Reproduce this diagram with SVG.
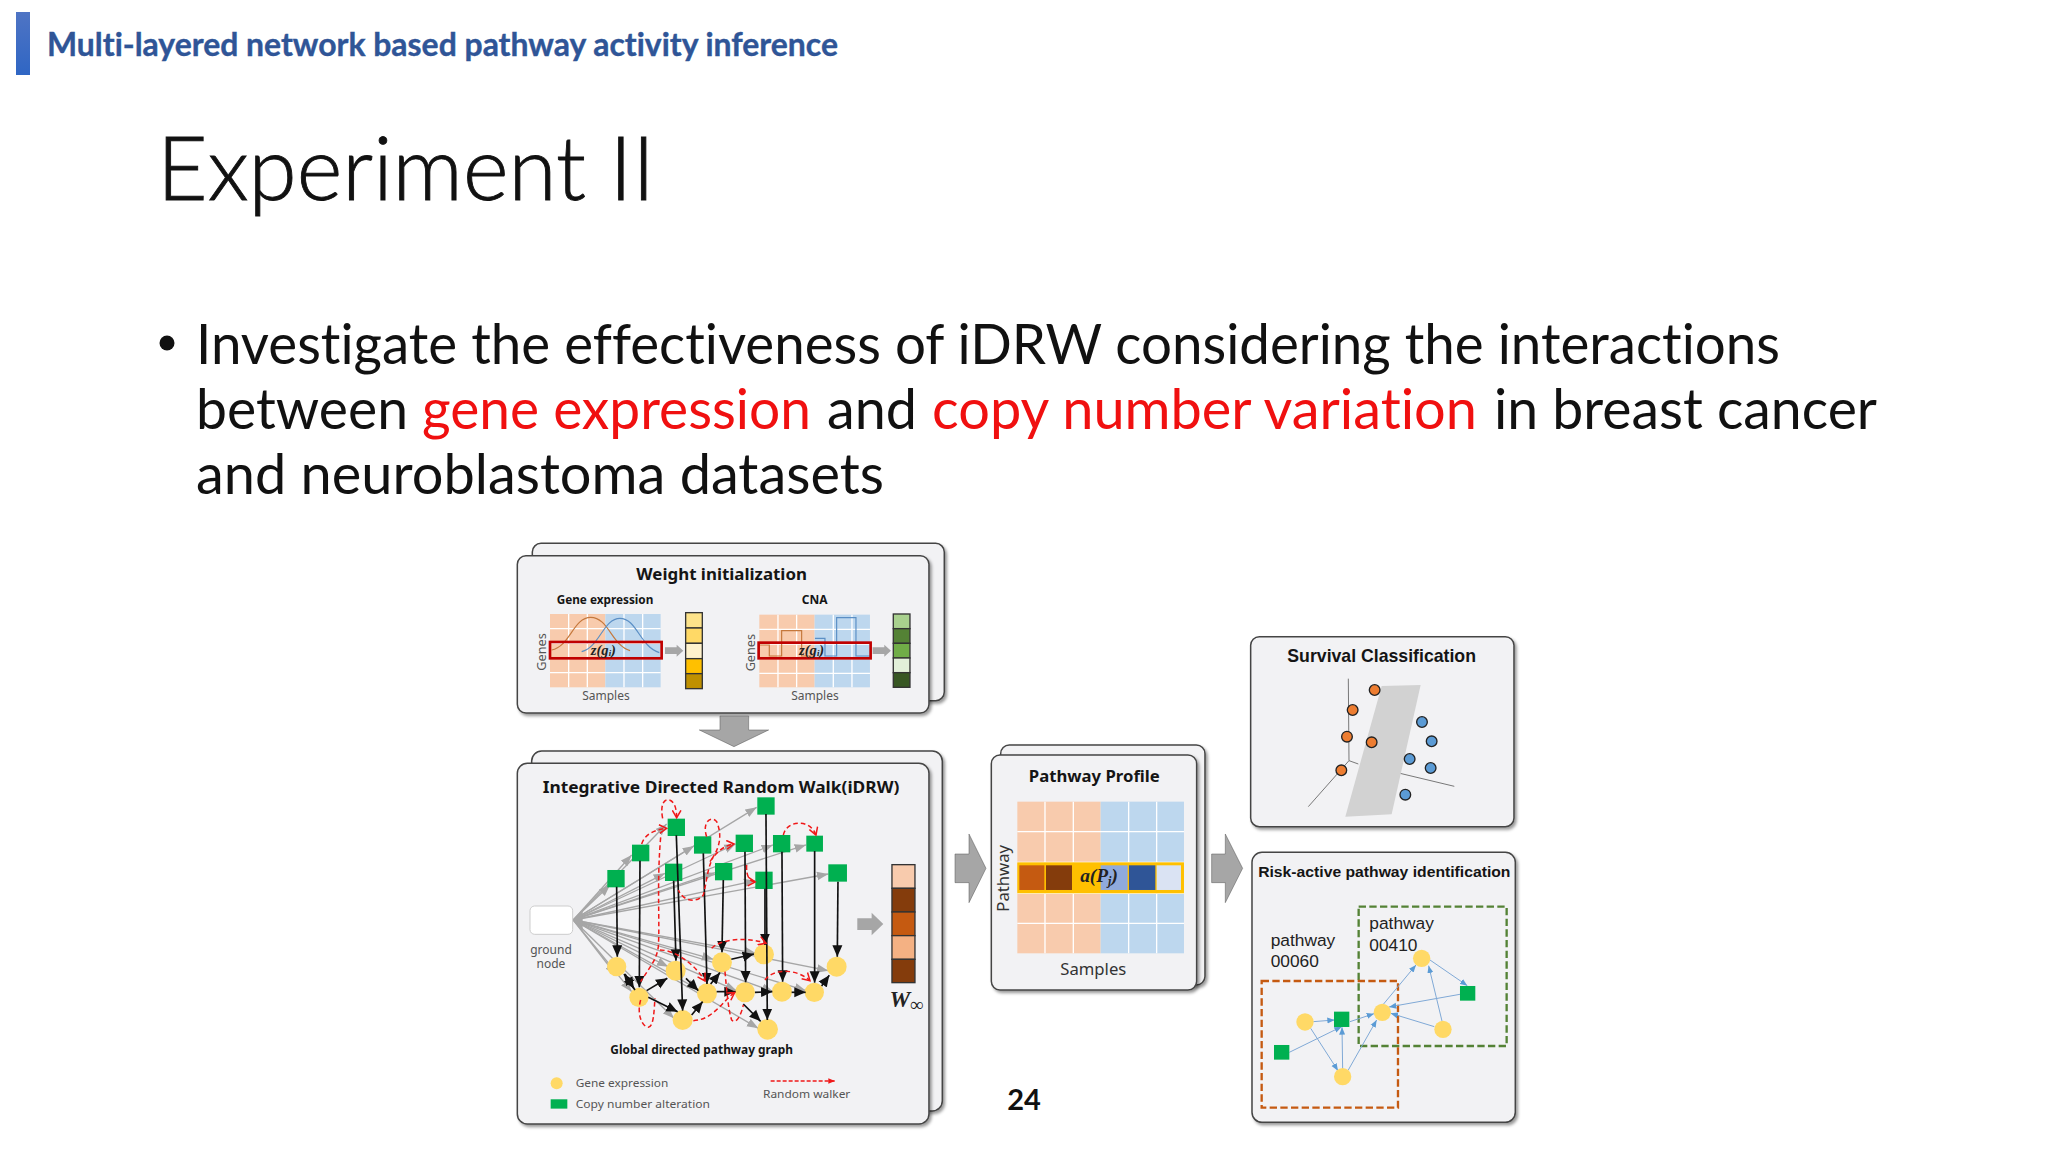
<svg xmlns="http://www.w3.org/2000/svg" width="2048" height="1152" viewBox="0 0 2048 1152">
<style>
text{font-family:"Lato","Open Sans","Liberation Sans",sans-serif;font-variant-ligatures:none}
.body{font-size:56px;fill:#111}
.red{fill:#f01010}
.panel{fill:#f2f2f4;stroke:#454545;stroke-width:4.5px;filter:url(#sh)}
.t{font-family:"Noto Sans","Liberation Sans",sans-serif;font-weight:700;fill:#151515;text-anchor:middle}
.l{font-family:"Noto Sans","Liberation Sans",sans-serif;fill:#555;text-anchor:middle}
.a{font-family:"Liberation Sans",Arial,sans-serif}
.m{font-family:"Liberation Serif",serif;font-weight:700;font-style:italic;fill:#222;text-anchor:middle}
.o{fill:#f8cbad}.b{fill:#bdd7ee}
.sep{stroke:#fff;stroke-width:4;fill:none}
.bar{stroke:#333;stroke-width:4}
.ga{fill:#a6a6a6;stroke:#555;stroke-width:1.5}
.gs{fill:#a6a6a6}
.sq{fill:#00b050}
.ci{fill:#ffd966}
.gl{stroke:#a6a6a6;stroke-width:4;fill:none;marker-end:url(#mg)}
.bl{stroke:#111;stroke-width:5;fill:none;marker-end:url(#mk)}
.rd{stroke:#f01818;stroke-width:4.5;fill:none;stroke-dasharray:14 9;marker-end:url(#mr)}
.rn{stroke:#f01818;stroke-width:4.5;fill:none;stroke-dasharray:14 9}
.bu{stroke:#7fa9d6;stroke-width:3;fill:none;marker-end:url(#mb)}
.ax{stroke:#777;stroke-width:3;fill:none}
.oc{fill:#ed7d31;stroke:#222;stroke-width:4}
.bc{fill:#5b9bd5;stroke:#222;stroke-width:4}
</style>
<defs>
<filter id="sh" x="-5%" y="-5%" width="112%" height="112%"><feDropShadow dx="6" dy="7" stdDeviation="4" flood-color="#000" flood-opacity=".4"/></filter>
<linearGradient id="hb" x1="0" y1="0" x2="0" y2="1"><stop offset="0" stop-color="#4f74c4"/><stop offset="1" stop-color="#2f66c4"/></linearGradient>
<marker id="mg" markerUnits="userSpaceOnUse" markerWidth="36" markerHeight="30" refX="34" refY="15" orient="auto"><path d="M0 2L34 15L0 28z" fill="#a6a6a6"/></marker>
<marker id="mk" markerUnits="userSpaceOnUse" markerWidth="36" markerHeight="34" refX="34" refY="17" orient="auto"><path d="M0 2L34 17L0 32z" fill="#111"/></marker>
<marker id="mr" markerUnits="userSpaceOnUse" markerWidth="30" markerHeight="30" refX="24" refY="15" orient="auto"><path d="M2 2L24 15L2 28" fill="none" stroke="#f01818" stroke-width="4.5"/></marker>
<marker id="mb" markerUnits="userSpaceOnUse" markerWidth="24" markerHeight="20" refX="22" refY="10" orient="auto"><path d="M0 1L22 10L0 19z" fill="#5b9bd5"/></marker>
<marker id="ml" markerUnits="userSpaceOnUse" markerWidth="22" markerHeight="20" refX="20" refY="10" orient="auto"><path d="M0 2L20 10L0 18z" fill="#f01818"/></marker>
</defs>
<rect width="2048" height="1152" fill="#fff"/>

<g id="header">
<rect x="16" y="12" width="14" height="63" fill="url(#hb)"/>
<text x="47" y="56" font-size="32" font-weight="700" fill="#2f5597" stroke="#2f5597" stroke-width=".4" textLength="791" lengthAdjust="spacingAndGlyphs">Multi-layered network based pathway activity inference</text>
</g>
<text id="title" x="157" y="200" font-size="88" font-weight="300" fill="#111" stroke="#111" stroke-width=".9" textLength="498" lengthAdjust="spacingAndGlyphs">Experiment II</text>
<g id="bullets" class="body">
<circle cx="167" cy="343" r="7.5" fill="#111"/>
<text class="body" x="196" y="364" textLength="1584" lengthAdjust="spacingAndGlyphs">Investigate the effectiveness of iDRW considering the interactions</text>
<text class="body" x="196" y="429" textLength="212" lengthAdjust="spacingAndGlyphs">between</text>
<text class="body red" x="422" y="429" textLength="389" lengthAdjust="spacingAndGlyphs">gene expression</text>
<text class="body" x="827" y="429" textLength="90" lengthAdjust="spacingAndGlyphs">and</text>
<text class="body red" x="932" y="429" textLength="545" lengthAdjust="spacingAndGlyphs">copy number variation</text>
<text class="body" x="1494" y="429" textLength="383" lengthAdjust="spacingAndGlyphs">in breast cancer</text>
<text class="body" x="196" y="494" textLength="688" lengthAdjust="spacingAndGlyphs">and neuroblastoma datasets</text>
</g>

<!-- Weight initialization -->
<g id="weight-panel" transform="translate(500 530) scale(.3333)">
<rect class="panel" x="97" y="40" width="1236" height="472" rx="26"/>
<rect class="panel" x="52" y="77" width="1235" height="472" rx="26"/>
<text class="t" x="665" y="150" font-size="50" textLength="512" lengthAdjust="spacingAndGlyphs">Weight initialization</text>
<text class="t" x="315" y="222" font-size="36" textLength="290" lengthAdjust="spacingAndGlyphs">Gene expression</text>
<text class="t" x="944" y="222" font-size="36">CNA</text>
<g id="grid-ge">
<rect class="o" x="150" y="252" width="166" height="220"/><rect class="b" x="316" y="252" width="166" height="220"/>
<path class="sep" d="M206 252V472M262 252V472M372 252V472M428 252V472M150 296H482M150 340H482M150 384H482M150 428H482"/>
<path d="M155 360C210 350 220 262 272 262C325 262 335 345 390 362" fill="none" stroke="#c5783c" stroke-width="3.5"/>
<path d="M245 365C300 350 310 265 360 265C410 265 420 350 478 368" fill="none" stroke="#5b8fc5" stroke-width="3.5"/>
<rect x="150" y="336" width="335" height="49" fill="none" stroke="#c00000" stroke-width="8"/>
<text class="m" x="310" y="374" font-size="44">z(g<tspan font-size="26" dy="5">i</tspan><tspan dy="-5">)</tspan></text>
</g>
<text class="l" transform="translate(138 366) rotate(-90)" font-size="38">Genes</text>
<text class="l" x="318" y="509" font-size="36">Samples</text>
<polygon class="gs" points="495,352 530,352 530,344 550,362 530,380 530,372 495,372"/>
<g id="bar-ge" class="bar">
<rect x="557" y="248" width="50" height="46" fill="#fde38a"/><rect x="557" y="294" width="50" height="46" fill="#ffd966"/><rect x="557" y="340" width="50" height="46" fill="#fff2cc"/><rect x="557" y="386" width="50" height="45" fill="#ffc000"/><rect x="557" y="431" width="50" height="45" fill="#bf9000"/>
</g>
<g id="grid-cna">
<rect class="o" x="778" y="254" width="166" height="218"/><rect class="b" x="944" y="254" width="166" height="218"/>
<path class="sep" d="M834 254V472M890 254V472M1000 254V472M1056 254V472M778 298H1110M778 342H1110M778 386H1110M778 430H1110"/>
<path d="M780 345H808V378H845V302H905V378H945" fill="none" stroke="#c5783c" stroke-width="3.5"/>
<path d="M945 325H975V378H1010V263H1068V378H1110" fill="none" stroke="#5b8fc5" stroke-width="3.5"/>
<rect x="776" y="338" width="336" height="47" fill="none" stroke="#c00000" stroke-width="8"/>
<text class="m" x="935" y="374" font-size="44">z(g<tspan font-size="26" dy="5">i</tspan><tspan dy="-5">)</tspan></text>
</g>
<text class="l" transform="translate(765 368) rotate(-90)" font-size="38">Genes</text>
<text class="l" x="945" y="510" font-size="36">Samples</text>
<polygon class="gs" points="1118,352 1153,352 1153,344 1173,362 1153,380 1153,372 1118,372"/>
<g id="bar-cna" class="bar">
<rect x="1180" y="252" width="50" height="44" fill="#a9d18e"/><rect x="1180" y="296" width="50" height="44" fill="#548235"/><rect x="1180" y="340" width="50" height="44" fill="#70ad47"/><rect x="1180" y="384" width="50" height="44" fill="#e2f0d9"/><rect x="1180" y="428" width="50" height="44" fill="#385723"/>
</g>
<polygon id="arrow-down" class="ga" points="660,558 746,558 746,600 806,600 702,650 598,600 660,600"/>
</g>

<!-- iDRW -->
<g id="idrw-panel" transform="translate(510 750) scale(.3333)">
<rect class="panel" x="65" y="3" width="1232" height="1080" rx="30"/>
<rect class="panel" x="22" y="40" width="1235" height="1082" rx="30"/>
<text class="t" x="633" y="128" font-size="50" textLength="1070" lengthAdjust="spacingAndGlyphs">Integrative Directed Random Walk(iDRW)</text>
<g id="connectors-gray">
<path class="gl" d="M190 510L300 405"/><path class="gl" d="M190 510L365 315"/><path class="gl" d="M190 510L470 222"/><path class="gl" d="M190 510L740 172"/><path class="gl" d="M190 510L552 288"/><path class="gl" d="M190 510L677 282"/><path class="gl" d="M190 510L789 285"/><path class="gl" d="M190 510L888 285"/><path class="gl" d="M190 510L465 370"/><path class="gl" d="M190 510L615 368"/><path class="gl" d="M190 510L736 392"/><path class="gl" d="M190 510L955 372"/>
<path class="gl" d="M190 510L318 675"/><path class="gl" d="M190 510L365 725"/><path class="gl" d="M190 510L475 650"/><path class="gl" d="M190 510L492 805"/><path class="gl" d="M190 510L565 718"/><path class="gl" d="M190 510L610 628"/><path class="gl" d="M190 510L680 722"/><path class="gl" d="M190 510L738 610"/><path class="gl" d="M190 510L790 725"/><path class="gl" d="M190 510L888 722"/><path class="gl" d="M190 510L955 662"/><path class="gl" d="M190 510L745 835"/>
</g>
<g id="ground"><rect x="60" y="468" width="128" height="85" rx="14" fill="#fff" stroke="#ccc" stroke-width="3"/><polygon points="188,510 218,478 218,542" fill="#a6a6a6"/></g>
<text class="l" x="123" y="612" font-size="36">ground</text>
<text class="l" x="123" y="655" font-size="36">node</text>
<g id="s1"><rect class="sq" x="292" y="360" width="52" height="52"/></g>
<g id="s2"><rect class="sq" x="366" y="284" width="52" height="50"/></g>
<g id="s3"><rect class="sq" x="473" y="206" width="52" height="52"/></g>
<g id="s4"><rect class="sq" x="742" y="142" width="52" height="52"/></g>
<g id="s5"><rect class="sq" x="552" y="259" width="52" height="52"/></g>
<g id="s6"><rect class="sq" x="677" y="254" width="52" height="52"/></g>
<g id="s7"><rect class="sq" x="789" y="255" width="52" height="52"/></g>
<g id="s8"><rect class="sq" x="889" y="257" width="50" height="48"/></g>
<g id="s9"><rect class="sq" x="465" y="341" width="52" height="52"/></g>
<g id="s10"><rect class="sq" x="615" y="339" width="52" height="52"/></g>
<g id="s11"><rect class="sq" x="736" y="365" width="52" height="52"/></g>
<g id="s12"><rect class="sq" x="955" y="343" width="56" height="52"/></g>
<g id="c1"><circle class="ci" cx="320" cy="650" r="29"/></g>
<g id="c2"><circle class="ci" cx="387" cy="742" r="29"/></g>
<g id="c3"><circle class="ci" cx="497" cy="662" r="30"/></g>
<g id="c4"><circle class="ci" cx="518" cy="810" r="30"/></g>
<g id="c5"><circle class="ci" cx="591" cy="730" r="30"/></g>
<g id="c6"><circle class="ci" cx="636" cy="637" r="30"/></g>
<g id="c7"><circle class="ci" cx="705" cy="727" r="30"/></g>
<g id="c8"><circle class="ci" cx="762" cy="613" r="30"/></g>
<g id="c9"><circle class="ci" cx="816" cy="725" r="30"/></g>
<g id="c10"><circle class="ci" cx="913" cy="727" r="29"/></g>
<g id="c11"><circle class="ci" cx="980" cy="650" r="30"/></g>
<g id="c12"><circle class="ci" cx="773" cy="838" r="31"/></g>
<g id="connectors-black">
<path class="bl" d="M320 410L322 620"/><path class="bl" d="M390 332L388 712"/><path class="bl" d="M491 392L498 632"/><path class="bl" d="M499 256L518 782"/><path class="bl" d="M580 310L591 702"/><path class="bl" d="M640 390L636 607"/><path class="bl" d="M705 305L707 697"/><path class="bl" d="M768 192L772 810"/><path class="bl" d="M765 416L765 585"/><path class="bl" d="M816 305L818 695"/><path class="bl" d="M914 303L914 698"/><path class="bl" d="M984 395L982 620"/>
<path class="bl" d="M375 720L342 672"/><path class="bl" d="M345 672L372 716"/><path class="bl" d="M410 722L472 685"/><path class="bl" d="M415 742L503 785"/><path class="bl" d="M545 795L578 755"/><path class="bl" d="M602 702L630 668"/><path class="bl" d="M664 628L732 612"/><path class="bl" d="M528 685L565 722"/><path class="bl" d="M620 725L677 725"/><path class="bl" d="M735 727L787 725"/><path class="bl" d="M845 727L887 727"/><path class="bl" d="M700 762L752 814"/><path class="bl" d="M935 708L958 676"/>
</g>
<g id="connectors-red">
<path class="rd" d="M458 205C450 165 462 145 478 150C495 155 500 180 500 203"/>
<path class="rn" d="M452 262C440 400 450 520 445 590C440 630 420 650 392 695"/>
<path class="rn" d="M392 750C380 790 395 830 415 832C432 830 432 780 435 745"/>
<path class="rd" d="M395 282C405 250 440 238 470 235"/>
<path class="rn" d="M590 260C575 215 605 195 620 215C635 250 632 285 610 320C590 360 590 400 580 435C560 460 520 455 505 420"/>
<path class="rd" d="M600 335C620 305 645 285 672 282"/>
<path class="rd" d="M710 345C708 380 720 395 736 396"/>
<path class="rd" d="M820 255C830 210 900 205 918 255"/>
<path class="rd" d="M605 595C640 560 730 565 768 580"/>
<path class="rd" d="M450 600C500 600 560 650 585 693"/>
<path class="rd" d="M550 812C610 810 640 750 674 728"/>
<path class="rn" d="M645 665C650 720 655 780 665 810C680 825 695 790 700 765"/>
<path class="rd" d="M765 690C790 655 860 655 900 692"/>
</g>
<text class="t" x="575" y="913" font-size="35" textLength="548" lengthAdjust="spacingAndGlyphs">Global directed pathway graph</text>
<g id="legend">
<circle class="ci" cx="140" cy="1000" r="18"/>
<text class="l" x="197" y="1012" font-size="34" style="text-anchor:start" textLength="278" lengthAdjust="spacingAndGlyphs">Gene expression</text>
<rect class="sq" x="122" y="1048" width="50" height="28"/>
<text class="l" x="197" y="1073" font-size="34" style="text-anchor:start" textLength="403" lengthAdjust="spacingAndGlyphs">Copy number alteration</text>
<path d="M782 993H975" stroke="#f01818" stroke-width="4" stroke-dasharray="12 6" fill="none" marker-end="url(#ml)"/>
<text class="l" x="890" y="1043" font-size="34" textLength="262" lengthAdjust="spacingAndGlyphs">Random walker</text>
</g>
<polygon class="gs" points="1042,505 1085,505 1085,488 1120,522 1085,556 1085,540 1042,540"/>
<g id="bar-w" class="bar">
<rect x="1146" y="344" width="69" height="71" fill="#f8cbad"/><rect x="1146" y="415" width="69" height="71" fill="#843c0c"/><rect x="1146" y="486" width="69" height="71" fill="#c55a11"/><rect x="1146" y="557" width="69" height="71" fill="#f4b183"/><rect x="1146" y="628" width="69" height="70" fill="#843c0c"/>
</g>
<text class="m" x="1170" y="770" font-size="70">W</text>
<text class="m" x="1220" y="782" font-size="58">∞</text>
</g>

<!-- Pathway profile -->
<g id="pathway-panel" transform="translate(950 740) scale(.3333)">
<polygon class="ga" points="15,342 57,342 57,282 108,385 57,488 57,428 15,428"/>
<polygon class="ga" points="785,342 826,342 826,282 878,385 826,488 826,428 785,428"/>
<rect class="panel" x="152" y="15" width="613" height="720" rx="26"/>
<rect class="panel" x="124" y="45" width="616" height="705" rx="26"/>
<text class="t" x="433" y="125" font-size="48" textLength="393" lengthAdjust="spacingAndGlyphs">Pathway Profile</text>
<rect class="o" x="202" y="185" width="250" height="455"/><rect class="b" x="452" y="185" width="250" height="455"/>
<path class="sep" d="M285 185V640M370 185V640M536 185V640M620 185V640M202 275H702M202 367H702M202 460H702M202 550H702"/>
<rect x="202" y="367" width="500" height="93" fill="#ffc000"/>
<rect x="208" y="376" width="75" height="74" fill="#c55a11"/>
<rect x="288" y="376" width="78" height="74" fill="#843c0c"/>
<rect x="452" y="376" width="81" height="74" fill="#8faadc"/>
<rect x="537" y="376" width="79" height="74" fill="#2f5597"/>
<rect x="620" y="376" width="73" height="74" fill="#dae3f3"/>
<text class="m" x="447" y="426" font-size="58">a(P<tspan font-size="36" dy="8">j</tspan><tspan dy="-8">)</tspan></text>
<text class="l" transform="translate(178 415) rotate(-90)" font-size="50" style="fill:#333">Pathway</text>
<text class="l" x="430" y="704" font-size="50" style="fill:#333">Samples</text>
</g>

<!-- Survival -->
<g id="survival-panel" transform="translate(1240 630) scale(.3333)">
<rect class="panel" x="32" y="20" width="790" height="570" rx="26"/>
<text class="t a" x="425" y="97" font-size="54" textLength="566" lengthAdjust="spacingAndGlyphs" style="font-family:'Liberation Sans',Arial,sans-serif">Survival Classification</text>
<path class="ax" d="M325 146L327 392L205 530M327 392L355 402M480 430L643 469"/>
<polygon points="425,168 542,165 455,553 316,560" fill="#d2d2d2"/>
<circle class="oc" cx="404" cy="180" r="16"/><circle class="oc" cx="338" cy="240" r="16"/><circle class="oc" cx="321" cy="320" r="16"/><circle class="oc" cx="395" cy="337" r="16"/><circle class="oc" cx="304" cy="421" r="16"/>
<circle class="bc" cx="546" cy="276" r="16"/><circle class="bc" cx="575" cy="334" r="16"/><circle class="bc" cx="509" cy="387" r="16"/><circle class="bc" cx="572" cy="414" r="16"/><circle class="bc" cx="496" cy="494" r="16"/>
</g>

<!-- Risk-active -->
<g id="risk-panel" transform="translate(1240 845) scale(.3333)">
<rect class="panel" x="36" y="22" width="790" height="810" rx="30"/>
<text class="t" x="433" y="97" font-size="45" textLength="757" lengthAdjust="spacingAndGlyphs" style="font-family:'Liberation Sans',Arial,sans-serif">Risk-active pathway identification</text>
<rect x="356" y="185" width="444" height="418" fill="none" stroke="#548235" stroke-width="7" stroke-dasharray="22 10"/>
<rect x="65" y="408" width="409" height="380" fill="none" stroke="#c55a11" stroke-width="7" stroke-dasharray="22 10"/>
<g font-size="52" fill="#222"><text class="a" x="92" y="303">pathway</text><text class="a" x="92" y="367">00060</text><text class="a" x="388" y="253">pathway</text><text class="a" x="388" y="317">00410</text></g>
<g id="risk-connectors">
<path class="bu" d="M220 530L284 525"/><path class="bu" d="M212 550L294 677"/><path class="bu" d="M148 622L305 545"/><path class="bu" d="M308 672L306 547"/><path class="bu" d="M325 675L410 525"/><path class="bu" d="M330 530L402 506"/><path class="bu" d="M430 478L528 360"/><path class="bu" d="M660 448L447 486"/><path class="bu" d="M583 545L452 505"/><path class="bu" d="M606 528L566 362"/><path class="bu" d="M570 345L682 422"/>
</g>
<g id="r1"><circle class="ci" cx="195" cy="531" r="26"/></g>
<g id="r2"><circle class="ci" cx="308" cy="695" r="26"/></g>
<g id="r3"><circle class="ci" cx="427" cy="502" r="26"/></g>
<g id="r4"><circle class="ci" cx="545" cy="340" r="26"/></g>
<g id="r5"><circle class="ci" cx="609" cy="553" r="26"/></g>
<g id="r6"><rect class="sq" x="282" y="500" width="46" height="46"/></g>
<g id="r7"><rect class="sq" x="102" y="600" width="46" height="44"/></g>
<g id="r8"><rect class="sq" x="660" y="423" width="46" height="44"/></g>
</g>

<text id="page" x="1024" y="1110" font-size="29" font-weight="700" fill="#111" text-anchor="middle">24</text>
</svg>
